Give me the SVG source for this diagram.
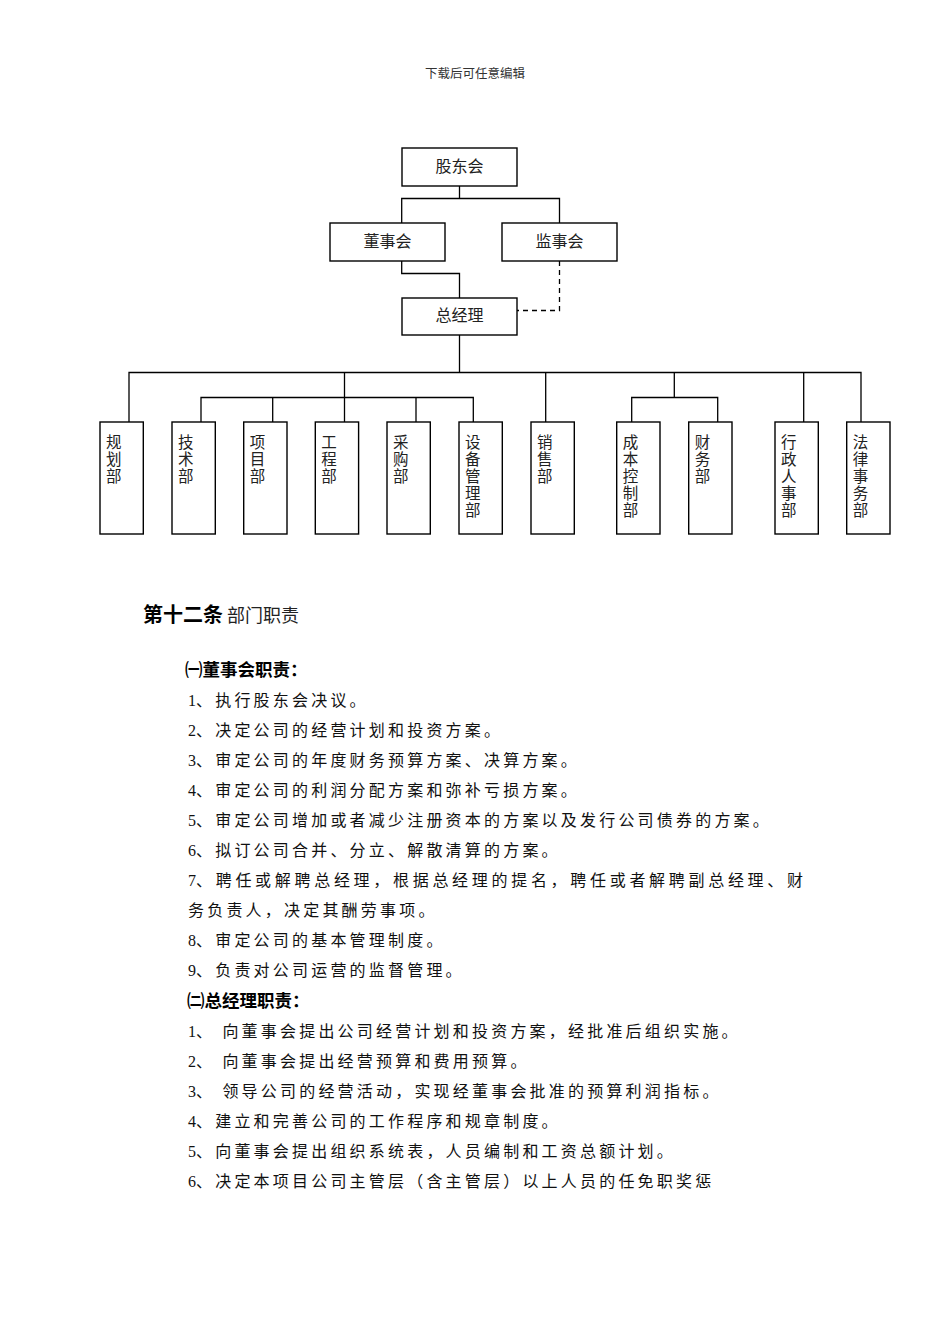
<svg xmlns="http://www.w3.org/2000/svg" width="950" height="1344" viewBox="0 0 950 1344">
<style>
.bg{fill:#fff}
.box{fill:#fff;stroke:#000;stroke-width:1.4}
.ln{fill:none;stroke:#000;stroke-width:1.3}
.dash{fill:none;stroke:#000;stroke-width:1.3;stroke-dasharray:5 4}
.lbl{font-family:'Noto Sans CJK SC',sans-serif;font-size:16px;fill:#222}
.vl{font-family:'Noto Sans CJK SC',sans-serif;font-size:15.5px;letter-spacing:1.7px;writing-mode:vertical-rl;fill:#222}
.top{font-family:'Noto Sans CJK SC',sans-serif;font-size:12.5px;fill:#333}
.body{font-family:'Liberation Serif','Noto Sans CJK SC',serif;font-size:16px;letter-spacing:3.2px;fill:#111}
.n{letter-spacing:0}
.h{font-family:'Noto Sans CJK SC',sans-serif;font-size:17.5px;font-weight:bold;fill:#000}
.t1{font-family:'Noto Sans CJK SC',sans-serif;font-size:20px;font-weight:bold;fill:#000}
.t2{font-family:'Noto Sans CJK SC',sans-serif;font-size:18px;fill:#222}
</style>
<rect class="bg" x="0" y="0" width="950" height="1344"/>
<text class="top" x="475" y="78" text-anchor="middle">下载后可任意编辑</text>

<g id="connectors">
<path class="ln" d="M459.5 186 V198.5 M401.7 223 V198.5 H559.5 V223"/>
<path class="ln" d="M401.7 261 V273.5 H459.5 V298"/>
<path class="dash" d="M559.5 261 V310.5 H517"/>
<path class="ln" d="M459.5 335 V372.5 M129 422 V372.5 H861 V422"/>
<path class="ln" d="M344.5 372.5 V422 M545.7 372.5 V422 M674.3 372.5 V397.5 M803.7 372.5 V422"/>
<path class="ln" d="M201 422 V397.5 H473.3 V422 M272.7 397.5 V422 M416 397.5 V422"/>
<path class="ln" d="M631.7 422 V397.5 H717.7 V422"/>
</g>

<g id="gudonghui"><rect class="box" x="402" y="148" width="115" height="38"/><text class="lbl" x="459.5" y="172" text-anchor="middle">股东会</text></g>
<g id="dongshihui"><rect class="box" x="330" y="223" width="115" height="38"/><text class="lbl" x="387.5" y="247" text-anchor="middle">董事会</text></g>
<g id="jianshihui"><rect class="box" x="502" y="223" width="115" height="38"/><text class="lbl" x="559.5" y="247" text-anchor="middle">监事会</text></g>
<g id="zongjingli"><rect class="box" x="402" y="298" width="115" height="37"/><text class="lbl" x="459.5" y="321" text-anchor="middle">总经理</text></g>

<g id="guihua"><rect class="box" x="100" y="422" width="43.3" height="112"/><text class="vl" x="113.8" y="434">规划部</text></g>
<g id="jishu"><rect class="box" x="172" y="422" width="43.3" height="112"/><text class="vl" x="185.8" y="434">技术部</text></g>
<g id="xiangmu"><rect class="box" x="243.7" y="422" width="43.3" height="112"/><text class="vl" x="257.5" y="434">项目部</text></g>
<g id="gongcheng"><rect class="box" x="315.3" y="422" width="43.3" height="112"/><text class="vl" x="329.1" y="434">工程部</text></g>
<g id="caigou"><rect class="box" x="387" y="422" width="43.3" height="112"/><text class="vl" x="400.8" y="434">采购部</text></g>
<g id="shebei"><rect class="box" x="459" y="422" width="43.3" height="112"/><text class="vl" x="472.8" y="434">设备管理部</text></g>
<g id="xiaoshou"><rect class="box" x="531" y="422" width="43.3" height="112"/><text class="vl" x="544.8" y="434">销售部</text></g>
<g id="chengben"><rect class="box" x="616.7" y="422" width="43.3" height="112"/><text class="vl" x="630.5" y="434">成本控制部</text></g>
<g id="caiwu"><rect class="box" x="688.7" y="422" width="43.3" height="112"/><text class="vl" x="702.5" y="434">财务部</text></g>
<g id="xingzheng"><rect class="box" x="775" y="422" width="43.3" height="112"/><text class="vl" x="788.8" y="434">行政人事部</text></g>
<g id="falv"><rect class="box" x="846.7" y="422" width="43.3" height="112"/><text class="vl" x="860.5" y="434">法律事务部</text></g>

<g id="text">
<text x="143" y="621.5"><tspan class="t1">第十二条</tspan><tspan class="t2" x="227">部门职责</tspan></text>
<text class="h" x="185" y="676">㈠董事会职责：</text>
<text class="body" x="188" y="706"><tspan class="n">1</tspan>、执行股东会决议。</text>
<text class="body" x="188" y="736"><tspan class="n">2</tspan>、决定公司的经营计划和投资方案。</text>
<text class="body" x="188" y="766"><tspan class="n">3</tspan>、审定公司的年度财务预算方案、决算方案。</text>
<text class="body" x="188" y="796"><tspan class="n">4</tspan>、审定公司的利润分配方案和弥补亏损方案。</text>
<text class="body" x="188" y="826"><tspan class="n">5</tspan>、审定公司增加或者减少注册资本的方案以及发行公司债券的方案。</text>
<text class="body" x="188" y="856"><tspan class="n">6</tspan>、拟订公司合并、分立、解散清算的方案。</text>
<text class="body" x="188" y="886" style="letter-spacing:3.7px"><tspan class="n">7</tspan>、聘任或解聘总经理，根据总经理的提名，聘任或者解聘副总经理、财</text>
<text class="body" x="188" y="916">务负责人，决定其酬劳事项。</text>
<text class="body" x="188" y="946"><tspan class="n">8</tspan>、审定公司的基本管理制度。</text>
<text class="body" x="188" y="976"><tspan class="n">9</tspan>、负责对公司运营的监督管理。</text>
<text class="h" x="187" y="1007">㈡总经理职责：</text>
<text class="body" x="188" y="1037"><tspan class="n">1</tspan>、 向董事会提出公司经营计划和投资方案，经批准后组织实施。</text>
<text class="body" x="188" y="1067"><tspan class="n">2</tspan>、 向董事会提出经营预算和费用预算。</text>
<text class="body" x="188" y="1097"><tspan class="n">3</tspan>、 领导公司的经营活动，实现经董事会批准的预算利润指标。</text>
<text class="body" x="188" y="1127"><tspan class="n">4</tspan>、建立和完善公司的工作程序和规章制度。</text>
<text class="body" x="188" y="1157"><tspan class="n">5</tspan>、向董事会提出组织系统表，人员编制和工资总额计划。</text>
<text class="body" x="188" y="1187"><tspan class="n">6</tspan>、决定本项目公司主管层（含主管层）以上人员的任免职奖惩</text>
</g>
</svg>
